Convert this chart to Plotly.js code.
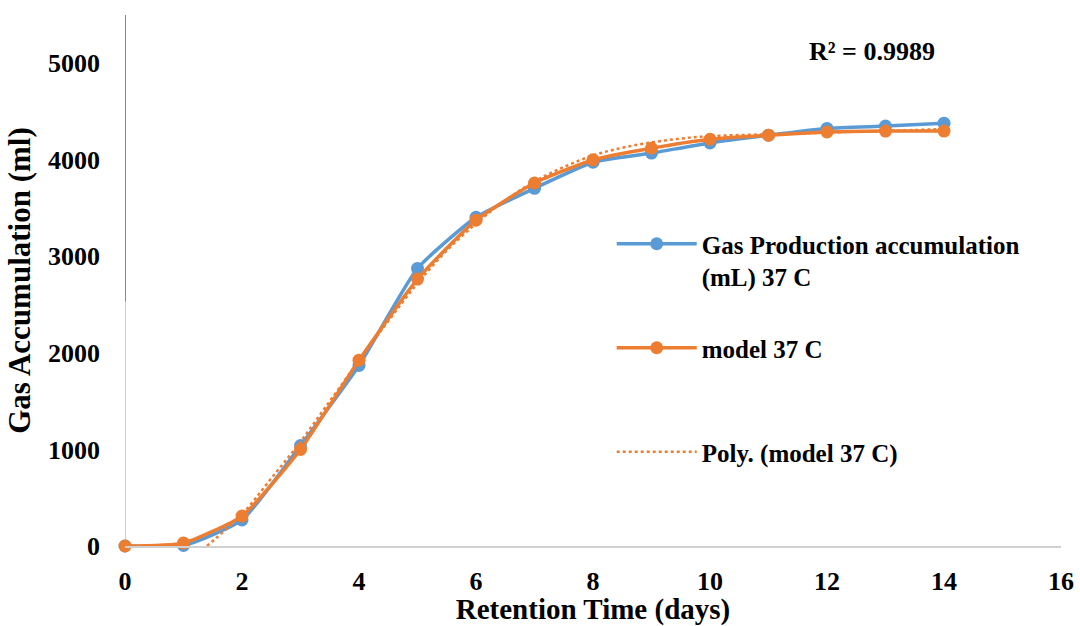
<!DOCTYPE html>
<html>
<head>
<meta charset="utf-8">
<script src="https://cdn.plot.ly/plotly-3.0.1.min.js"></script>
<style>html,body{margin:0;padding:0;background:#fff;}#chart{width:1080px;height:626px;}</style>
</head>
<body>
<div id="chart"></div>
<script>
// Retention time (days)
const days = [0, 1, 2, 3, 4, 5, 6, 7, 8, 9, 10, 11, 12, 13, 14];
// Measured gas production accumulation (mL) at 37 C
const gasMeasured = [0, 5, 270, 1040, 1870, 2875, 3405, 3705, 3975, 4070, 4175, 4255, 4325, 4350, 4380];
// Model 37 C
const gasModel = [0, 30, 310, 1000, 1925, 2765, 3375, 3760, 4000, 4120, 4213, 4255, 4288, 4298, 4298];
// Polynomial trendline of model
const polyDays = [1.4, 2, 2.5, 3, 3.5, 4, 4.5, 5, 5.5, 6, 6.5, 7, 7.5, 8, 8.5, 9, 9.5, 10, 11, 12, 13, 14];
const polyVals = [0, 330, 700, 1080, 1500, 1920, 2330, 2720, 3060, 3340, 3580, 3775, 3925, 4045, 4125, 4180, 4220, 4245, 4265, 4282, 4300, 4318];
const r2Text = "R² = 0.9989";
const xTicks = [0, 2, 4, 6, 8, 10, 12, 14, 16];
const yTicks = [0, 1000, 2000, 3000, 4000, 5000];

const blue = '#5B9BD5', orange = '#ED7D31';
const fnt = 'Liberation Serif, Times New Roman, serif';

const traces = [
  {x: days, y: gasMeasured, type: 'scatter', mode: 'lines+markers',
   name: 'Gas Production accumulation<br>(mL) 37 C', legendgroup: 'a',
   line: {color: blue, width: 3.5, shape: 'spline', smoothing: 0.5},
   marker: {color: blue, size: 13}, cliponaxis: false},
  {x: days, y: gasModel, type: 'scatter', mode: 'lines+markers',
   name: 'model 37 C<br> ', legendgroup: 'b',
   line: {color: orange, width: 3.5, shape: 'spline', smoothing: 0.5},
   marker: {color: orange, size: 13}, cliponaxis: false},
  {x: polyDays, y: polyVals, type: 'scatter', mode: 'lines',
   name: 'Poly. (model 37 C)<br> ', legendgroup: 'c',
   line: {color: orange, width: 2.5, dash: 'dot', shape: 'spline'}}
];

const layout = {
  width: 1080, height: 626,
  margin: {l: 125, r: 19, t: 15, b: 80},
  paper_bgcolor: '#fff', plot_bgcolor: '#fff',
  font: {family: fnt, color: '#000', size: 24},
  xaxis: {range: [0, 16], tickvals: xTicks, showgrid: false, zeroline: false,
    showline: true, linecolor: '#d0d0d0', linewidth: 1.5, ticks: '',
    ticklabelstandoff: 11,
    tickfont: {family: fnt, size: 26, weight: 'bold'},
    title: {text: 'Retention Time (days)', standoff: 2, font: {family: fnt, size: 29, weight: 'bold'}}},
  yaxis: {range: [0, 5500], tickvals: yTicks, showgrid: false, zeroline: false,
    showline: false, ticks: '', ticklabelstandoff: 24,
    tickfont: {family: fnt, size: 26, weight: 'bold'},
    title: {text: 'Gas Accumulation (ml)', standoff: 8, font: {family: fnt, size: 31, weight: 'bold'}}},
  shapes: [
    {type: 'line', xref: 'x', yref: 'paper', x0: 0, x1: 0, y0: 0.46, y1: 1, line: {color: '#7f8a96', width: 2}, layer: 'below'},
    {type: 'line', xref: 'x', yref: 'paper', x0: 0, x1: 0, y0: 0, y1: 0.46, line: {color: '#bcd3ea', width: 2}, layer: 'below'}
  ],
  showlegend: true,
  legend: {x: 0.52, y: 0.612, xanchor: 'left', yanchor: 'top', bgcolor: 'rgba(0,0,0,0)',
    traceorder: 'grouped', tracegroupgap: 36, itemwidth: 80, valign: 'top',
    font: {family: fnt, size: 25, weight: 'bold', color: '#000'}},
  annotations: [
    {xref: 'paper', yref: 'paper', x: (872 - 125) / 936, y: (546 - 52) / 531,
     text: r2Text, showarrow: false, xanchor: 'center', yanchor: 'middle',
     font: {family: fnt, size: 26, weight: 'bold', color: '#000'}}
  ]
};

Plotly.newPlot('chart', traces, layout, {displayModeBar: false, staticPlot: true});
</script>
</body>
</html>
